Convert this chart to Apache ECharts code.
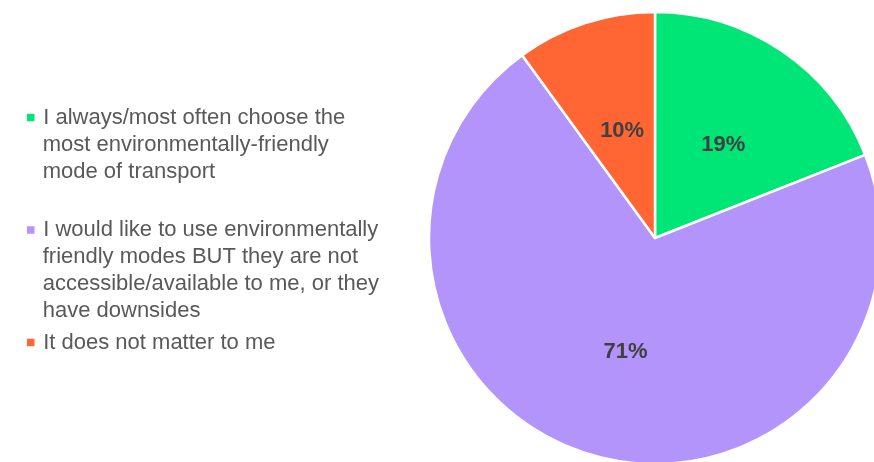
<!DOCTYPE html>
<html>
<head>
<meta charset="utf-8">
<script src="https://cdn.jsdelivr.net/npm/echarts@6/dist/echarts.min.js"></script>
<style>
html,body{margin:0;padding:0;background:#fff;}
#chart{width:874px;height:462px;}
</style>
</head>
<body>
<div id="chart"></div>
<script>
var categories = [
  'I always/most often choose the\nmost environmentally-friendly\nmode of transport',
  'I would like to use environmentally\nfriendly modes BUT they are not\naccessible/available to me, or they\nhave downsides',
  'It does not matter to me'
];
var values = [19, 71, 10];
var colors = ['#00E676', '#B394FA', '#FF6634'];

var FONT = 'Liberation Sans, Arial, sans-serif';
var rich = {
  gap: {width: 8.7, lineHeight: 27},
  ind: {width: 15.7, lineHeight: 27},
  t: {lineHeight: 27, fontSize: 22, color: '#595959', fontFamily: FONT}
};
colors.forEach(function (c, i) {
  rich['sq' + i] = {width: 7.5, height: 7.5, backgroundColor: c, lineHeight: 27};
});

var chart = echarts.init(document.getElementById('chart'), null, {renderer: 'canvas'});
chart.setOption({
  animation: false,
  color: colors,
  legend: {
    orient: 'vertical',
    left: 21,
    top: 104,
    padding: 0,
    icon: 'rect',
    itemWidth: 0,
    itemHeight: 0,
    itemGap: 4.5,
    selectedMode: false,
    textStyle: {color: '#595959', fontSize: 22, lineHeight: 27, fontFamily: FONT, rich: rich},
    formatter: function (name) {
      var idx = categories.indexOf(name);
      var lines = name.split('\n');
      var out = lines.map(function (l, j) {
        return (j === 0 ? '{sq' + idx + '| }{gap| }' : '{ind| }') + '{t|' + l + '}';
      });
      if (idx === 0) out.push('{ind| }');
      return out.join('\n');
    }
  },
  series: [{
    type: 'pie',
    center: [655, 238],
    radius: 226,
    startAngle: 90,
    clockwise: true,
    itemStyle: {borderColor: '#ffffff', borderWidth: 2.5},
    label: {
      show: true,
      position: 'inside',
      formatter: '{c}%',
      color: '#404040',
      fontSize: 22,
      fontWeight: 'bold',
      fontFamily: FONT,
      offset: [3, 3]
    },
    labelLine: {show: false},
    emphasis: {disabled: true},
    data: categories.map(function (c, i) { return {name: c, value: values[i]}; })
  }]
});
</script>
</body>
</html>
